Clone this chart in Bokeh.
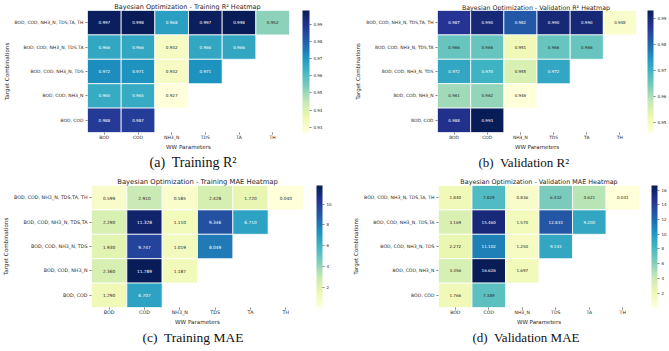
import numpy as np
from bokeh.plotting import figure
from bokeh.models import (ColumnDataSource, LinearColorMapper, ColorBar, FixedTicker,
                          Title, FactorRange)
from bokeh.layouts import column, row
from bokeh.embed import file_html
from bokeh.resources import INLINE
from bokeh.core.properties import value

# ---------------- data ----------------
params = ["BOD", "COD", "NH3_N", "TDS", "TA", "TH"]
targets = ["BOD, COD, NH3_N, TDS,TA, TH", "BOD, COD, NH3_N, TDS,TA",
           "BOD, COD, NH3_N, TDS", "BOD, COD, NH3_N", "BOD, COD"]

train_r2 = [
    [0.997, 0.998, 0.968, 0.997, 0.998, 0.952],
    [0.966, 0.966, 0.932, 0.966, 0.966],
    [0.972, 0.971, 0.932, 0.971],
    [0.965, 0.965, 0.927],
    [0.988, 0.987],
]
val_r2 = [
    [0.987, 0.990, 0.982, 0.990, 0.990, 0.948],
    [0.966, 0.966, 0.951, 0.966, 0.966],
    [0.972, 0.970, 0.955, 0.972],
    [0.961, 0.962, 0.946],
    [0.988, 0.993],
]
train_mae = [
    [0.599, 2.910, 0.585, 2.428, 1.720, 0.040],
    [2.290, 11.328, 1.110, 9.346, 6.710],
    [1.930, 9.747, 1.019, 8.049],
    [2.360, 11.789, 1.187],
    [1.290, 6.707],
]
val_mae = [
    [1.840, 7.829, 0.836, 6.432, 4.621, 0.041],
    [3.169, 15.460, 1.570, 12.833, 9.200],
    [2.272, 11.102, 1.250, 9.143],
    [3.356, 16.626, 1.697],
    [1.766, 7.389],
]

ticks_train_r2 = [0.93, 0.94, 0.95, 0.96, 0.97, 0.98, 0.99]
ticks_val_r2 = [0.95, 0.96, 0.97, 0.98, 0.99]
ticks_train_mae = [2, 4, 6, 8, 10]
ticks_val_mae = [2, 4, 6, 8, 10, 12, 14, 16]

titles = ["Bayesian Optimization - Training R\u00b2  Heatmap",
          "Bayesian Optimization - Validation R\u00b2  Heatmap",
          "Bayesian Optimization - Training MAE Heatmap",
          "Bayesian Optimization - Validation MAE Heatmap"]
captions = ["(a)\u00a0 Training R\u00b2", "(b)\u00a0 Validation R\u00b2",
            "(c)\u00a0 Training MAE", "(d)\u00a0 Validation MAE"]

# ---------------- styling ----------------
YLGNBU = ['#ffffd9', '#edf8b1', '#c7e9b4', '#7fcdbb', '#41b6c4',
          '#1d91c0', '#225ea8', '#253494', '#081d58']


def make_palette(base, n=256):
    rgb = np.array([[int(c[i:i + 2], 16) for i in (1, 3, 5)] for c in base], float)
    pos = np.linspace(0, 1, len(base))
    t = np.linspace(0, 1, n)
    cols = np.stack([np.interp(t, pos, rgb[:, k]) for k in range(3)], axis=1)
    return ["#%02x%02x%02x" % tuple(int(round(v)) for v in c) for c in cols]


PAL = make_palette(YLGNBU)


def lum(hexc):
    c = np.array([int(hexc[i:i + 2], 16) for i in (1, 3, 5)]) / 255.0
    c = np.where(c <= 0.03928, c / 12.92, ((c + 0.055) / 1.055) ** 2.4)
    return 0.2126 * c[0] + 0.7152 * c[1] + 0.0722 * c[2]


TXT = "#262626"
FONT = "DejaVu Sans"


def panel(data, ticks, title, caption, g):
    flat = [v for r in data for v in r]
    lo, hi = min(flat), max(flat)
    xs, ys, vals, labels, tcols = [], [], [], [], []
    for i, r in enumerate(data):
        for j, v in enumerate(r):
            xs.append(params[j]); ys.append(targets[i]); vals.append(v)
            labels.append("%.3f" % v)
            idx = min(int((v - lo) / (hi - lo) * 256), 255)
            tcols.append(TXT if lum(PAL[idx]) > 0.408 else "#ffffff")
    src = ColumnDataSource(dict(x=xs, y=ys, v=vals, label=labels, tc=tcols))
    mapper = LinearColorMapper(palette=PAL, low=lo, high=hi)

    p = figure(width=g["W"], height=g["H"], output_backend="svg", toolbar_location=None,
               x_range=FactorRange(*params), y_range=FactorRange(*reversed(targets)),
               min_border_left=g["left"], min_border_right=g["right"],
               min_border_bottom=g["bottom"], min_border_top=0)
    p.title.text = title
    p.title.align = "center"
    p.title.text_font = FONT
    p.title.text_font_size = "%gpx" % g["fs_title"]
    p.title.text_font_style = "normal"
    p.title.text_color = TXT
    p.title.standoff = 0
    p.outline_line_color = None
    p.grid.visible = False

    p.rect(x="x", y="y", width=1, height=1, source=src,
           fill_color={"field": "v", "transform": mapper},
           line_color="white", line_width=0.8)
    p.text(x="x", y="y", text="label", source=src, text_align="center",
           text_baseline="middle", text_color="tc",
           text_font=value(FONT), text_font_size="%gpx" % g["fs_cell"])

    for ax in (p.xaxis[0], p.yaxis[0]):
        ax.axis_line_color = None
        ax.major_tick_in = 0
        ax.major_tick_out = 2
        ax.major_tick_line_color = "#333333"
        ax.major_tick_line_width = 0.6
        ax.major_label_text_font = FONT
        ax.major_label_text_font_size = "%gpx" % g["fs_tick"]
        ax.major_label_text_color = TXT
        ax.axis_label_text_font = FONT
        ax.axis_label_text_font_size = "%gpx" % g["fs_axis"]
        ax.axis_label_text_font_style = "normal"
        ax.axis_label_text_color = TXT
    p.yaxis.major_label_standoff = 2
    p.yaxis.axis_label_standoff = 2
    p.xaxis.major_label_standoff = 0
    p.xaxis.axis_label_standoff = 1
    p.xaxis.axis_label = "WW Parameters"
    p.yaxis.axis_label = "Target Combinations"

    cb = ColorBar(color_mapper=mapper, ticker=FixedTicker(ticks=ticks),
                  width=g["cb_w"], padding=0, margin=0, location=(g["cb_gap"], 0),
                  major_label_text_font=FONT,
                  major_label_text_font_size="%gpx" % g["fs_cb"],
                  major_label_text_color=TXT, label_standoff=2,
                  major_tick_in=0, major_tick_out=2, major_tick_line_color="#333333",
                  major_tick_line_width=0.6, bar_line_color=None,
                  border_line_color=None, background_fill_color=None)
    p.add_layout(cb, "right")

    cap = Title(text=caption, align="left", offset=g["cap_off"],
                text_font="Liberation Serif", text_font_size="%gpx" % g["fs_cap"],
                text_font_style="normal", text_color="#111111", standoff=g["cap_sd"])
    p.add_layout(cap, "below")
    return p


geoms = [
    dict(W=335, H=175, left=83, right=46, bottom=39, cb_w=7, cb_gap=13, cap_off=62, cap_sd=1,
         fs_tick=4.5, fs_cell=4.1, fs_title=6.5, fs_axis=5.6, fs_cb=4, fs_cap=14),
    dict(W=334, H=175, left=102, right=32, bottom=43, cb_w=6, cb_gap=11, cap_off=41, cap_sd=1,
         fs_tick=4.4, fs_cell=4.0, fs_title=6.3, fs_axis=5.5, fs_cb=4, fs_cap=13),
    dict(W=335, H=176, left=87, right=32, bottom=36, cb_w=6, cb_gap=13, cap_off=51, cap_sd=0,
         fs_tick=4.8, fs_cell=4.3, fs_title=6.8, fs_axis=5.6, fs_cb=4, fs_cap=13.5),
    dict(W=334, H=176, left=103, right=28, bottom=44, cb_w=6, cb_gap=12, cap_off=34, cap_sd=0,
         fs_tick=4.6, fs_cell=4.1, fs_title=6.4, fs_axis=5.5, fs_cb=4, fs_cap=13),
]

datas = [train_r2, val_r2, train_mae, val_mae]
tickss = [ticks_train_r2, ticks_val_r2, ticks_train_mae, ticks_val_mae]
figs = [panel(d, t, ti, c, g) for d, t, ti, c, g in zip(datas, tickss, titles, captions, geoms)]

layout = column(row(figs[0], figs[1]), row(figs[2], figs[3]))
open("out.html", "w").write(file_html(layout, INLINE))
